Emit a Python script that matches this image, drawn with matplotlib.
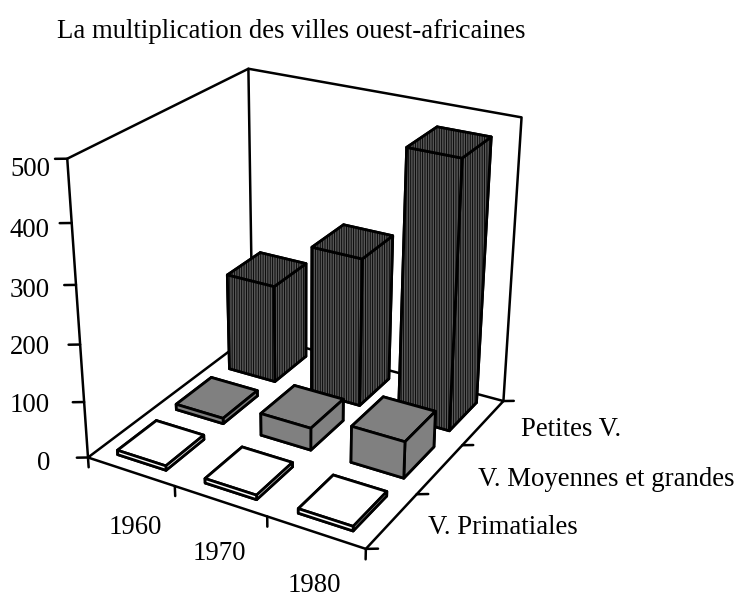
import matplotlib
matplotlib.use('Agg')
import matplotlib.pyplot as plt

title = "La multiplication des villes ouest-africaines"
years = ['1960', '1970', '1980']
rows = ['V. Primatiales', 'V. Moyennes et grandes', 'Petites V.']
primatiales = [8, 8, 8]
moyennes = [10, 40, 65]
petites = [180, 268, 470]
z_ticks = [0, 100, 200, 300, 400, 500]

# label anchors in picture pixels
z_label_y = [463, 405, 348, 291, 231, 170]
year_xy = [(135, 527), (219, 554), (314, 585)]
row_xy = [(428, 527), (478, 480), (521, 430)]

plt.rcParams['font.family'] = 'Liberation Serif'
plt.rcParams['hatch.linewidth'] = 0.6
W, H = 739, 594
FS = 19.3

fig = plt.figure(figsize=(W / 100, H / 100), dpi=100)
ax = fig.add_axes([-77.13 / W, -0.122 - 2.31 / H, 1, 1.244], projection='3d')
ax.set_proj_type('persp', focal_length=0.389)
ax.view_init(elev=25.504, azim=-59.98)
ax.set_box_aspect((0.9872, 0.9839, 1), zoom=0.7253)
ax.set_xlim(0, 3)
ax.set_ylim(0, 3)
ax.set_zlim(0, 500)
ax.set_axis_off()
ax.computed_zorder = False

lw = 1.8
line = dict(color='k', lw=lw, zorder=1, solid_capstyle='round')
# floor and the two walls
ax.plot([0, 3, 3, 0, 0], [0, 0, 3, 3, 0], [0, 0, 0, 0, 0], **line)
ax.plot([0, 0, 0, 3, 3], [0, 0, 3, 3, 3], [0, 500, 500, 500, 0], **line)
ax.plot([0, 0], [3, 3], [0, 500], **line)

# ticks stick out level or straight down on the page, hence the mixed offsets
for v in z_ticks:
    ax.plot([0, -0.09], [0, -0.056], [v, v], **line)
for i in range(4):
    ax.plot([i, i], [0, 0], [0, -18], **line)
    ax.plot([3, 3.09], [i, i + 0.056], [0, 0], **line)

for v, y in zip(z_ticks, z_label_y):
    fig.text(50 / W, 1 - y / H, str(v), ha='right', va='center', fontsize=FS)
for lab, (x, y) in zip(years, year_xy):
    fig.text(x / W, 1 - y / H, lab, ha='center', va='center', fontsize=FS)
for lab, (x, y) in zip(rows, row_xy):
    fig.text(x / W, 1 - y / H, lab, ha='left', va='center', fontsize=FS)
fig.text(57 / W, 1 - 31 / H, title, ha='left', va='center', fontsize=FS)

# bars, back row first so nearer ones cover them
bw = 0.56
bd = 0.65
series = [(2, petites, '#565656', '|||||||'), (1, moyennes, '#808080', None), (0, primatiales, 'white', None)]
order = 2
for row, vals, col, hatch in series:
    for i, v in enumerate(vals):
        b = ax.bar3d(i + 0.495 - bw / 2, row + 0.51 - bd / 2, 0, bw, bd, v, color=col,
                     edgecolor='k', linewidth=2.0, shade=False, zorder=order)
        if hatch:
            b.set_hatch(hatch)
        order += 1

fig.savefig('out.png', dpi=100)
